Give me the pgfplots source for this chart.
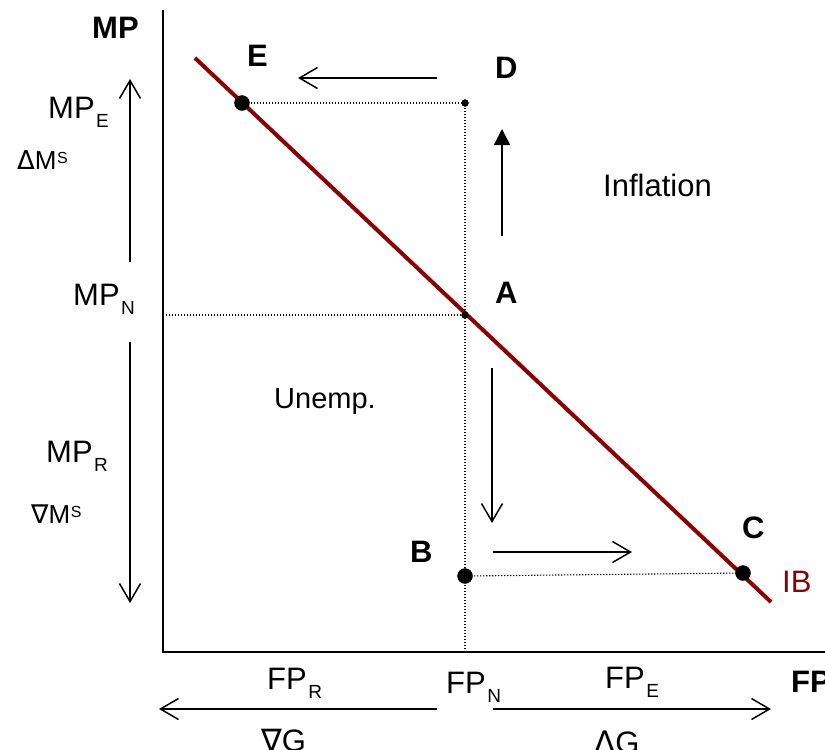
\documentclass[border=0pt]{standalone}
\usepackage{pgfplots}
\pgfplotsset{compat=1.18}
\usepackage{fontspec}
\setmainfont{Liberation Sans}
\newfontfamily\dejavu{DejaVu Sans}
\usetikzlibrary{arrows.meta}
\definecolor{ibred}{RGB}{139,0,0}
\newcommand\lbl{\fontsize{31bp}{36bp}\selectfont}
\newcommand\sml{\fontsize{26bp}{30bp}\selectfont}
\newcommand\mysub[1]{\kern1.5bp\raisebox{-9bp}{\fontsize{19bp}{19bp}\selectfont #1}}
\newcommand\mysup[1]{\kern0.5bp\raisebox{5.5bp}{\fontsize{16bp}{16bp}\selectfont #1}}
\begin{document}
\begin{tikzpicture}
\begin{axis}[at={(0,0)},anchor=south west,scale only axis,
  width=825bp,height=750bp,xmin=0,xmax=825,ymin=0,ymax=750,
  y dir=reverse,hide axis,clip=false]
% axes
\addplot[black,line width=2bp] coordinates {(163,10) (163,652) (840,652)};
% dotted guides
\addplot[black,line width=1.1bp,dash pattern=on 1.3bp off 1.7bp] coordinates {(242,103) (465,103) (465,652)};
\addplot[black,line width=1.1bp,dash pattern=on 1.3bp off 1.7bp] coordinates {(163,315) (465,315)};
\addplot[black,line width=1.1bp,dash pattern=on 1.3bp off 1.7bp] coordinates {(465,576) (743,573)};
% IB line
\addplot[ibred,line width=4bp] coordinates {(195,58) (771,602)};
% points
\addplot[only marks,mark=*,mark size=7.5bp,black] coordinates {(242,103) (465,576) (743,573)};
\addplot[only marks,mark=*,mark size=3.5bp,black] coordinates {(465,103) (465,315)};
% arrows (open heads)
\pgfplotsset{oa/.style={black,line width=1.5bp,-{Straight Barb[length=18bp,width=21bp,line width=1.5bp]}}}
\addplot[oa] coordinates {(437,78) (298,78)};
\addplot[oa] coordinates {(492,368) (492,523)};
\addplot[oa] coordinates {(493,552) (632,552)};
\addplot[oa] coordinates {(130,262) (130,79)};
\addplot[oa] coordinates {(130,342) (130,603)};
\addplot[oa] coordinates {(437,709) (159,709)};
\addplot[oa] coordinates {(493,709) (771,709)};
% filled up arrow
\addplot[black,line width=1.5bp,-{Triangle[length=16bp,width=16bp]}] coordinates {(502,236) (502,129)};
% labels
\begin{scope}[every node/.style={anchor=base west,inner sep=0pt}]
\node at (axis cs:92,38) {\lbl\bfseries MP};
\node at (axis cs:247,66) {\lbl\bfseries E};
\node at (axis cs:495,78) {\lbl\bfseries D};
\node at (axis cs:495,303) {\lbl\bfseries A};
\node at (axis cs:410,562) {\lbl\bfseries B};
\node at (axis cs:742,538) {\lbl\bfseries C};
\node at (axis cs:791,692) {\lbl\bfseries FP};
\node[text=ibred] at (axis cs:782,592) {\lbl IB};
\node at (axis cs:603,196) {\lbl Inflation};
\node at (axis cs:274,408) {\fontsize{29bp}{34bp}\selectfont Unemp.};
\node at (axis cs:48,118) {\lbl MP\mysub{E}};
\node at (axis cs:73,305) {\lbl MP\mysub{N}};
\node at (axis cs:46,462) {\lbl MP\mysub{R}};
\node at (axis cs:267,689) {\lbl FP\mysub{R}};
\node at (axis cs:446,693) {\lbl FP\mysub{N}};
\node at (axis cs:605,688) {\lbl FP\mysub{E}};
\node at (axis cs:17,169) {\sml{\dejavu Δ}M\mysup{S}};
\node at (axis cs:31,523) {\sml{\dejavu ∇}M\mysup{S}};
\node at (axis cs:261,751) {\lbl{\dejavu ∇}G};
\node at (axis cs:594,753) {\lbl{\dejavu Δ}G};
\end{scope}
\end{axis}
\pgfresetboundingbox
\path (0,0) rectangle (825bp,750bp);
\end{tikzpicture}
\end{document}
